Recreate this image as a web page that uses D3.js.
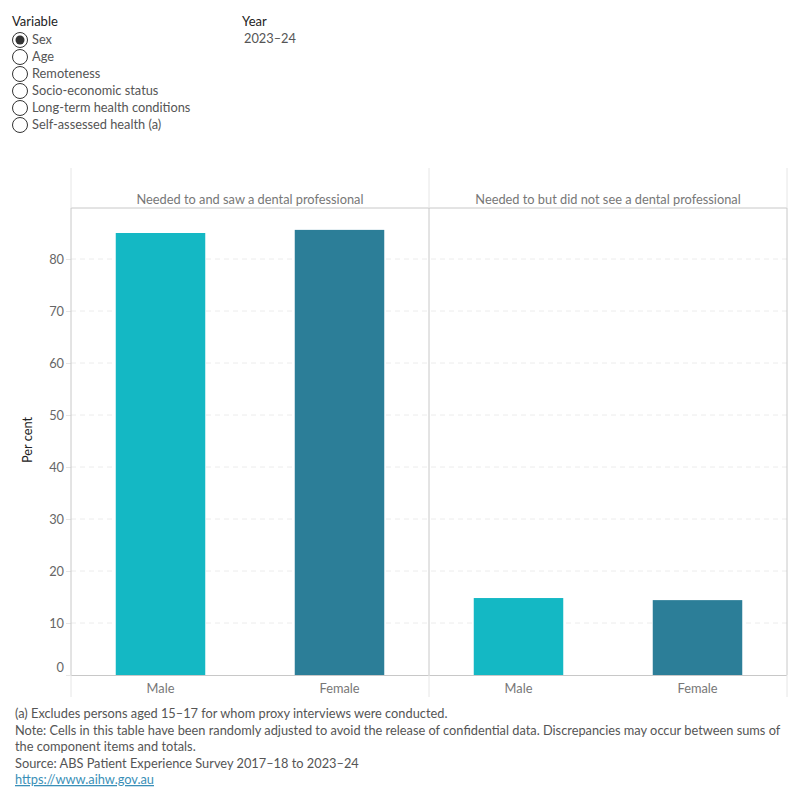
<!DOCTYPE html>
<html>
<head>
<meta charset="utf-8">
<title>Dental professional</title>
<script src="https://d3js.org/d3.v7.min.js"></script>
<style>
body { margin: 0; background: #fff; font-family: Lato, "Noto Sans", sans-serif; }
svg { display: block; }
</style>
</head>
<body>
<script>
// data
const panels = ['Needed to and saw a dental professional', 'Needed to but did not see a dental professional'];
const sexes = ['Male', 'Female'];
const sawValues = [85.0, 85.6];
const notSawValues = [14.8, 14.4];
const yTicks = [0, 10, 20, 30, 40, 50, 60, 70, 80];
const variables = ['Sex', 'Age', 'Remoteness', 'Socio-economic status', 'Long-term health conditions', 'Self-assessed health (a)'];
const notes = [
  '(a) Excludes persons aged 15\u201317 for whom proxy interviews were conducted.',
  'Note: Cells in this table have been randomly adjusted to avoid the release of confidential data. Discrepancies may occur between sums of',
  'the component items and totals.',
  'Source: ABS Patient Experience Survey 2017\u201318 to 2023\u201324'
];
const colors = { Male: '#14b8c4', Female: '#2c7e98' };

const width = 800, height = 800;
const fs = 12.8;
const svg = d3.select('body').append('svg').attr('width', width).attr('height', height);

// controls
svg.append('text').attr('x', 12).attr('y', 26).attr('font-size', 13).attr('fill', '#222').text('Variable');
variables.forEach((v, i) => {
  let cy = 39 + i * 17;
  svg.append('circle').attr('cx', 20).attr('cy', cy + 1).attr('r', 7.5).attr('fill', '#fff').attr('stroke', '#333').attr('stroke-width', 1);
  if (i == 0) svg.append('circle').attr('cx', 20).attr('cy', cy + 1).attr('r', 4.5).attr('fill', '#333');
  svg.append('text').attr('x', 32).attr('y', cy + 5).attr('font-size', fs).attr('fill', '#555').text(v);
});
svg.append('text').attr('x', 242).attr('y', 26).attr('font-size', 13).attr('fill', '#222').text('Year');
svg.append('text').attr('x', 244).attr('y', 43).attr('font-size', fs).attr('fill', '#555').text('2023\u201324');

// chart area
const plotLeft = 71, plotRight = 787, plotTop = 208, plotBottom = 675, headTop = 168;
const panelScale = d3.scaleBand().domain(panels).range([plotLeft, plotRight]);
const y = d3.scaleLinear().domain([0, 80]).range([plotBottom, plotBottom - 416]);

// gridlines
svg.append('g').selectAll('line').data(yTicks.filter(d => d > 0)).join('line')
  .attr('x1', plotLeft).attr('x2', plotRight).attr('y1', d => y(d)).attr('y2', d => y(d))
  .attr('stroke', '#ececec').attr('stroke-dasharray', '5,4');

// y axis labels
const yAxis = d3.axisLeft(y).tickValues(yTicks).tickSize(5).tickFormat(d3.format('d'));
const ya = svg.append('g').attr('transform', `translate(${plotLeft},0)`).call(yAxis);
ya.select('.domain').remove();
ya.selectAll('.tick line').attr('stroke', '#e6e6e6');
ya.selectAll('.tick text').attr('font-family', 'Lato, "Noto Sans", sans-serif').attr('font-size', fs).attr('fill', '#666').attr('x', -7);
ya.selectAll('.tick').filter(d => d == 0).select('text').attr('dy', '-0.3em');

svg.append('text').attr('transform', 'translate(32,440) rotate(-90)').attr('text-anchor', 'middle')
  .attr('font-size', fs).attr('fill', '#222').text('Per cent');

// panels
const series = [sawValues, notSawValues];
panels.forEach((p, pi) => {
  let x0 = panelScale(p);
  let x = d3.scaleBand().domain(sexes).range([x0, x0 + panelScale.bandwidth()]).paddingInner(0.5).paddingOuter(0.25);
  svg.append('text').attr('x', x0 + panelScale.bandwidth() / 2).attr('y', 204).attr('text-anchor', 'middle')
    .attr('font-size', fs).attr('fill', '#777').text(p);
  svg.append('g').selectAll('rect').data(sexes).join('rect')
    .attr('x', d => x(d)).attr('width', x.bandwidth())
    .attr('y', (d, i) => y(series[pi][i])).attr('height', (d, i) => plotBottom - y(series[pi][i]))
    .attr('fill', d => colors[d]);
  let xa = svg.append('g').attr('transform', `translate(0,${plotBottom})`).call(d3.axisBottom(x).tickSize(0));
  xa.select('.domain').remove();
  xa.selectAll('.tick text').attr('font-family', 'Lato, "Noto Sans", sans-serif').attr('font-size', fs).attr('fill', '#777').attr('dy', '1.2em');
});

// frame lines
svg.append('line').attr('x1', plotLeft).attr('x2', plotRight).attr('y1', plotTop).attr('y2', plotTop).attr('stroke', '#c8c8c8');
svg.append('line').attr('x1', plotLeft).attr('x2', plotRight).attr('y1', plotBottom + 0.5).attr('y2', plotBottom + 0.5).attr('stroke', '#c8c8c8');
[plotLeft, panelScale(panels[1]), plotRight].forEach(xv => {
  svg.append('line').attr('x1', xv).attr('x2', xv).attr('y1', headTop).attr('y2', plotTop).attr('stroke', '#e6e6e6');
  svg.append('line').attr('x1', xv).attr('x2', xv).attr('y1', plotTop).attr('y2', plotBottom).attr('stroke', '#c8c8c8');
  svg.append('line').attr('x1', xv).attr('x2', xv).attr('y1', plotBottom).attr('y2', 697).attr('stroke', '#e6e6e6');
});

// footnotes
notes.forEach((n, i) => {
  svg.append('text').attr('x', 15).attr('y', 718 + i * 16.5).attr('font-size', fs).attr('fill', '#555').text(n);
});
svg.append('text').attr('x', 15).attr('y', 784).attr('font-size', fs).attr('fill', '#3a8fb7')
  .attr('text-decoration', 'underline').text('https://www.aihw.gov.au');
</script>
</body>
</html>
